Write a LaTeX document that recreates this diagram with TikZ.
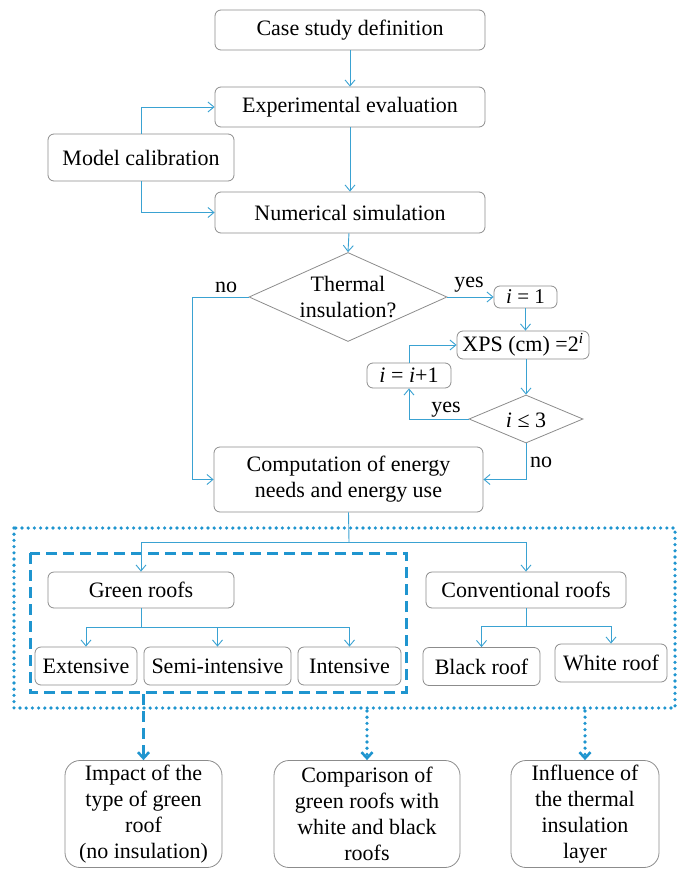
\documentclass[tikz,border=0pt]{standalone}
\usepackage{fontspec}
\setmainfont{Liberation Serif}
\usetikzlibrary{arrows.meta,shapes.geometric}
\definecolor{lnblue}{HTML}{3AA2D2}
\definecolor{frblue}{HTML}{1F95CF}
\definecolor{bxgray}{HTML}{8C8C8C}
\begin{document}
\begin{tikzpicture}[x=1pt,y=-1pt,
  txt/.style={font=\rmfamily\fontsize{22}{26}\selectfont},
  box/.style={txt,draw=bxgray,line width=0.8pt,rounded corners=6pt,inner sep=0pt,align=center},
  bigbox/.style={box,rounded corners=15pt},
  dia/.style={draw=bxgray,line width=0.8pt,diamond,inner sep=0pt},
  conn/.style={draw=lnblue,line width=0.9pt,-{Straight Barb[length=6pt,width=10pt]}},
  plain/.style={draw=lnblue,line width=0.9pt},
  dotfr/.style={draw=frblue,line width=3.6pt,line cap=round,dash pattern=on 0pt off 6.2pt},
  dashfr/.style={draw=frblue,line width=3pt,dash pattern=on 11pt off 6pt},
  bigtip/.style={-{Straight Barb[length=6pt,width=11pt,line width=2.6pt]}}
]
\useasboundingbox (0,0) rectangle (677,869);
% top chain
\node[box,minimum width=270,minimum height=40] (case) at (350,30) {Case study definition};
\node[box,minimum width=270,minimum height=40] (exp) at (350,107) {Experimental evaluation};
\node[box,minimum width=186,minimum height=47] (model) at (141,157.5) {Model calibration};
\node[box,minimum width=270,minimum height=41] (num) at (350,212.5) {Numerical simulation};
\node[dia,minimum width=198,minimum height=89] (d1) at (348,297) {};
\node[txt,align=center,inner sep=0pt] (d1t) at (348,297) {Thermal\\insulation?};
\node[box,minimum width=63,minimum height=22,font=\rmfamily\fontsize{21}{24}\selectfont] (i1) at (525.5,297) {\textit{i} = 1};
\node[box,minimum width=132,minimum height=28] (xps) at (523,345) {XPS (cm) =2\textsuperscript{\textit{i}}};
\node[box,minimum width=84,minimum height=25] (inc) at (409,375.5) {\textit{i} = \textit{i}+1};
\node[dia,minimum width=114,minimum height=48] (d2) at (526,419) {};
\node[txt,inner sep=0pt] (d2t) at (526,420) {\textit{i} ≤ 3};
\node[box,minimum width=269,minimum height=65] (comp) at (348.5,479.5) {Computation of energy\\needs and energy use};
% labels
\node[txt,inner sep=0pt] (lno1) at (226,287) {no};
\node[txt,inner sep=0pt] (lyes1) at (469,285) {yes};
\node[txt,inner sep=0pt] (lyes2) at (446,410) {yes};
\node[txt,inner sep=0pt] (lno2) at (541,462) {no};
% roofs
\node[box,minimum width=186,minimum height=36] (green) at (141,590) {Green roofs};
\node[box,minimum width=200,minimum height=36] (conv) at (526,590) {Conventional roofs};
\node[box,minimum width=102,minimum height=38] (ext) at (86,666) {Extensive};
\node[box,minimum width=147,minimum height=38] (semi) at (217.5,666) {Semi-intensive};
\node[box,minimum width=103,minimum height=38] (int) at (349.5,666) {Intensive};
\node[box,minimum width=117,minimum height=38] (black) at (481.5,666.5) {Black roof};
\node[box,minimum width=112,minimum height=38] (white) at (611,663) {White roof};
% outcome boxes
\node[bigbox,minimum width=157,minimum height=107] (imp) at (143.5,814) {Impact of the\\type of green\\roof\\(no insulation)};
\node[bigbox,minimum width=186,minimum height=107] (cmp) at (367,814) {Comparison of\\green roofs with\\white and black\\roofs};
\node[bigbox,minimum width=148,minimum height=107] (inf) at (585,814) {Influence of\\the thermal\\insulation\\layer};
% frames
\draw[dotfr] (14,528) rectangle (675,708);
\draw[dashfr] (30,553) rectangle (406,692);
% connectors
\draw[conn] (case) -- (exp);
\draw[conn] (exp) -- (num);
\draw[conn] (model.north) |- (exp.west);
\draw[conn] (model.south) |- (num.west);
\draw[conn] (num) -- (d1.north);
\coordinate (nocorner) at (192,297);
\draw[conn] (d1.west) -- (nocorner) |- (comp.west);
\draw[conn] (d1.east) -- (i1.west);
\draw[conn] (i1.south) -- (i1.south |- xps.north);
\draw[conn] (xps.south -| d2.north) -- (d2.north);
\draw[conn] (d2.west) -| (inc.south);
\draw[conn] (inc.north) |- (xps.west);
\draw[conn] (d2.south) |- (comp.east);
\coordinate (br) at (349,542);
\draw[plain] (comp.south) -- (br);
\draw[conn] (br) -| (green.north);
\draw[conn] (br) -| (conv.north);
\coordinate (gb) at (141,627);
\draw[plain] (green.south) -- (gb);
\draw[conn] (gb) -| (ext.north);
\draw[conn] (gb) -| (semi.north);
\draw[conn] (gb) -| (int.north);
\coordinate (cb) at (526,626);
\draw[plain] (conv.south) -- (cb);
\draw[conn] (cb) -| (black.north);
\draw[conn] (cb) -| (white.north);
% outcome arrows
\coordinate (s1) at (143.5,694);
\coordinate (s2) at (367,711);
\coordinate (s3) at (585,711);
\draw[dashfr,bigtip] (s1) -- (imp.north);
\draw[dotfr,bigtip] (s2) -- (cmp.north);
\draw[dotfr,bigtip] (s3) -- (inf.north);
\end{tikzpicture}
\end{document}
